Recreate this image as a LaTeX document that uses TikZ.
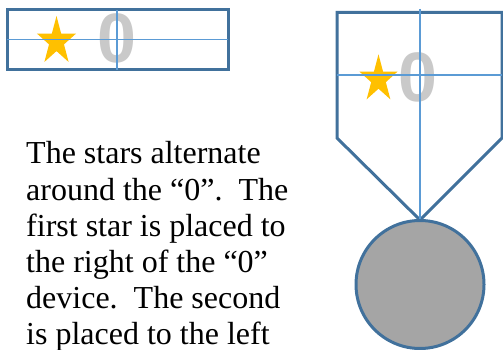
\documentclass[tikz,border=0pt]{standalone}
\usepackage{fontspec}
\setmainfont{Liberation Serif}
\newfontfamily\zerofont{Liberation Sans}
\definecolor{edge}{RGB}{65,113,156}
\definecolor{guide}{RGB}{91,155,213}
\definecolor{starc}{RGB}{255,192,0}
\definecolor{zeroc}{RGB}{201,201,201}
\definecolor{medal}{RGB}{165,165,165}
\newcommand\drawstar[3]{%
  \fill[starc,shift={(#1,#2)},xscale=0.81]
    (-90:#3) -- (-54:0.382*#3) -- (-18:#3) -- (18:0.382*#3) -- (54:#3) --
    (90:0.382*#3) -- (126:#3) -- (162:0.382*#3) -- (198:#3) -- (234:0.382*#3) -- cycle;}
\begin{document}
\begin{tikzpicture}[x=1pt,y=-1pt,
  outline/.style={draw=edge,line width=3pt},
  guideline/.style={draw=guide,line width=1.2pt},
  zero/.style={text=zeroc,font=\zerofont\bfseries\fontsize{70}{70}\selectfont,inner sep=0pt},
  body/.style={font=\fontsize{32}{36}\selectfont,anchor=base west,inner sep=0pt}]
\useasboundingbox (0,0) rectangle (503,350);
% left box
\draw[outline,fill=white] (7,10) rectangle (228,70);
\drawstar{56.5}{41.4}{25.4}
\node[zero] (z1) at (116.5,38.7) {0};
\draw[guideline] (7,39.3) -- (228,39.3);
\draw[guideline] (117,10) -- (117,70);
% shield
\draw[outline,fill=white,line join=miter] (337,12.5) -- (502,12.5) -- (502,138) -- (420,220) -- (337,138) -- cycle;
\drawstar{378.5}{79.2}{24.9}
\node[zero] (z2) at (418.4,77) {0};
\draw[guideline] (337,75) -- (502,75);
\draw[guideline] (420,9) -- (420,220);
% medal
\draw[outline,fill=medal] (420,284.5) circle (64);
% text
\node[body] (t1) at (26,164) {The stars alternate};
\node[body] (t2) at (26,200) {around the “0”.~~The};
\node[body] (t3) at (26,236) {first star is placed to};
\node[body] (t4) at (26,272) {the right of the “0”};
\node[body] (t5) at (26,308) {device.~~The second};
\node[body] (t6) at (26,344) {is placed to the left};
\end{tikzpicture}
\end{document}
